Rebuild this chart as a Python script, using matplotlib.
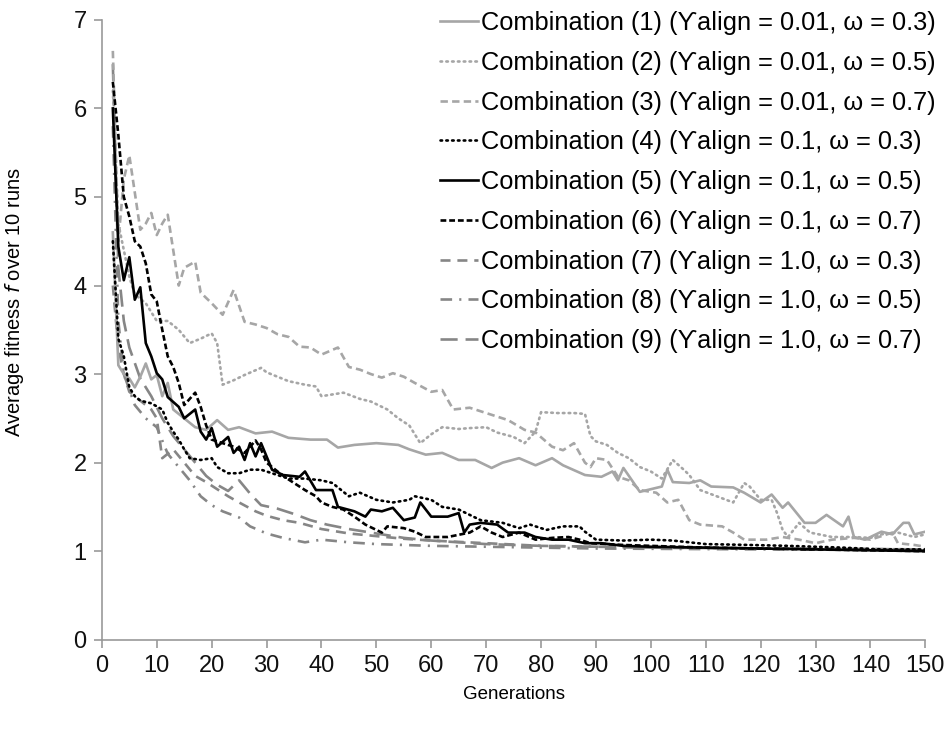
import numpy as np
import matplotlib.pyplot as plt

plt.rcParams['font.family'] = ['Liberation Sans', 'DejaVu Sans']

# (generation, average fitness)
comb1 = [(2, 4.6), (3, 3.1), (4, 3.0), (5, 2.95), (6, 2.85), (7, 2.97), (8, 3.12), (9, 2.94),
         (10, 2.99), (11, 2.75), (12, 2.9), (13, 2.6), (15, 2.5), (17, 2.4), (19, 2.37), (21, 2.48),
         (23, 2.37), (25, 2.4), (28, 2.33), (31, 2.35), (34, 2.28), (38, 2.26), (41, 2.26), (43, 2.17),
         (46, 2.2), (50, 2.22), (54, 2.2), (56, 2.15), (59, 2.09), (62, 2.11), (65, 2.03), (68, 2.03),
         (71, 1.94), (73, 2.0), (76, 2.05), (79, 1.97), (82, 2.05), (84, 1.97), (88, 1.86), (91, 1.84),
         (93, 1.9), (94, 1.8), (95, 1.94), (98, 1.67), (102, 1.73), (103, 1.92), (104, 1.78), (107, 1.77),
         (109, 1.8), (111, 1.73), (115, 1.72), (117, 1.66), (120, 1.55), (122, 1.64), (124, 1.49),
         (125, 1.55), (128, 1.32), (130, 1.32), (132, 1.41), (135, 1.28), (136, 1.39), (137, 1.16),
         (139, 1.13), (141, 1.19), (142, 1.22), (144, 1.19), (146, 1.32), (147, 1.32), (148, 1.19),
         (150, 1.22)]
comb2 = [(2, 6.2), (3, 4.7), (4, 4.4), (5, 4.1), (6, 3.9), (8, 3.8), (10, 3.6), (12, 3.6), (14, 3.5),
         (16, 3.35), (18, 3.4), (20, 3.46), (21, 3.35), (22, 2.88), (24, 2.93), (26, 2.99), (29, 3.07),
         (30, 3.02), (32, 2.97), (34, 2.92), (37, 2.88), (39, 2.86), (40, 2.75), (44, 2.79), (47, 2.72),
         (49, 2.69), (52, 2.6), (54, 2.5), (56, 2.42), (58, 2.22), (60, 2.32), (62, 2.4), (65, 2.38),
         (67, 2.39), (70, 2.4), (72, 2.34), (75, 2.29), (77, 2.22), (79, 2.35), (80, 2.57), (83, 2.56),
         (86, 2.56), (88, 2.55), (89, 2.3), (90, 2.24), (92, 2.2), (94, 2.11), (96, 2.05), (98, 1.95),
         (100, 1.9), (102, 1.82), (104, 2.03), (106, 1.92), (107, 1.86), (109, 1.69), (112, 1.62),
         (115, 1.55), (117, 1.77), (118, 1.73), (120, 1.58), (122, 1.58), (123, 1.43), (124, 1.24),
         (125, 1.16), (127, 1.32), (129, 1.21), (133, 1.16), (137, 1.16), (140, 1.15), (142, 1.19),
         (145, 1.21), (148, 1.16), (150, 1.19)]
comb3 = [(2, 6.65), (3, 4.5), (4, 5.2), (5, 5.47), (7, 4.63), (8, 4.7), (9, 4.82), (10, 4.57),
         (11, 4.7), (12, 4.8), (14, 4.0), (15, 4.2), (17, 4.27), (18, 3.92), (20, 3.8), (22, 3.67),
         (24, 3.95), (26, 3.59), (28, 3.56), (30, 3.52), (32, 3.45), (34, 3.42), (36, 3.31), (38, 3.3),
         (40, 3.22), (43, 3.3), (45, 3.08), (47, 3.05), (49, 3.0), (51, 2.96), (53, 3.01), (55, 2.97),
         (57, 2.9), (60, 2.8), (62, 2.82), (64, 2.6), (67, 2.62), (70, 2.56), (72, 2.52), (74, 2.48),
         (77, 2.37), (79, 2.34), (82, 2.18), (84, 2.14), (86, 2.22), (88, 2.0), (89, 1.95), (90, 2.05),
         (92, 2.03), (94, 1.84), (96, 1.8), (98, 1.69), (101, 1.66), (103, 1.55), (105, 1.58),
         (107, 1.35), (109, 1.3), (113, 1.28), (115, 1.21), (117, 1.13), (121, 1.13), (124, 1.16),
         (127, 1.13), (130, 1.09), (133, 1.13), (137, 1.15), (140, 1.13), (144, 1.21), (145, 1.09),
         (148, 1.07), (150, 1.05)]
comb4 = [(2, 4.5), (3, 3.4), (4, 3.2), (5, 2.85), (6, 2.75), (7, 2.7), (9, 2.67), (11, 2.6), (12, 2.45),
         (13, 2.35), (14, 2.26), (15, 2.15), (16, 2.05), (18, 2.03), (20, 2.05), (21, 1.95), (23, 1.88),
         (25, 1.88), (27, 1.92), (29, 1.92), (31, 1.88), (34, 1.82), (37, 1.82), (40, 1.8), (42, 1.77),
         (45, 1.62), (47, 1.66), (50, 1.58), (53, 1.55), (56, 1.58), (57, 1.62), (60, 1.58), (62, 1.5),
         (65, 1.47), (67, 1.41), (69, 1.35), (73, 1.32), (76, 1.26), (78, 1.3), (81, 1.24), (84, 1.28),
         (87, 1.28), (88, 1.22), (90, 1.13), (95, 1.12), (100, 1.13), (104, 1.12), (110, 1.08),
         (118, 1.07), (125, 1.06), (135, 1.04), (142, 1.02), (150, 1.02)]
comb5 = [(2, 6.0), (3, 4.44), (4, 4.06), (5, 4.32), (6, 3.84), (7, 3.98), (8, 3.35), (9, 3.2),
         (10, 3.01), (11, 2.94), (12, 2.74), (14, 2.63), (15, 2.5), (17, 2.6), (18, 2.35), (19, 2.26),
         (20, 2.39), (21, 2.18), (23, 2.29), (24, 2.11), (25, 2.18), (26, 2.03), (27, 2.22), (28, 2.07),
         (29, 2.22), (31, 1.92), (33, 1.86), (36, 1.84), (37, 1.9), (39, 1.69), (42, 1.69), (43, 1.5),
         (46, 1.45), (48, 1.39), (49, 1.47), (51, 1.45), (53, 1.49), (55, 1.35), (57, 1.38), (58, 1.55),
         (60, 1.39), (63, 1.39), (65, 1.43), (66, 1.21), (67, 1.3), (69, 1.32), (72, 1.3), (74, 1.21),
         (77, 1.21), (79, 1.16), (82, 1.13), (85, 1.13), (88, 1.09), (91, 1.09), (95, 1.06),
         (100, 1.05), (110, 1.04), (120, 1.03), (130, 1.02), (140, 1.01), (150, 1.0)]
comb6 = [(2, 6.3), (3, 5.7), (4, 5.0), (5, 4.78), (6, 4.5), (7, 4.44), (8, 4.25), (9, 3.9), (10, 3.82),
         (11, 3.5), (12, 3.2), (13, 3.08), (14, 2.9), (15, 2.65), (17, 2.79), (18, 2.63), (19, 2.42),
         (20, 2.26), (22, 2.22), (24, 2.18), (26, 2.11), (28, 2.25), (29, 2.15), (30, 2.0), (32, 1.9),
         (34, 1.81), (37, 1.69), (39, 1.62), (40, 1.55), (42, 1.5), (44, 1.47), (46, 1.39), (48, 1.3),
         (50, 1.24), (51, 1.21), (52, 1.28), (55, 1.26), (57, 1.22), (59, 1.16), (63, 1.16), (67, 1.21),
         (69, 1.28), (71, 1.21), (73, 1.16), (76, 1.21), (79, 1.13), (82, 1.15), (85, 1.16), (87, 1.13),
         (89, 1.09), (95, 1.07), (100, 1.06), (110, 1.04), (120, 1.03), (130, 1.02), (140, 1.01),
         (150, 1.0)]
comb7 = [(2, 4.0), (3, 3.3), (4, 3.0), (5, 2.8), (7, 2.7), (9, 2.6), (10, 2.5), (11, 2.05), (13, 2.15),
         (15, 2.0), (17, 1.85), (19, 1.78), (21, 1.7), (23, 1.62), (25, 1.55), (28, 1.45), (30, 1.4),
         (33, 1.35), (36, 1.32), (40, 1.25), (45, 1.2), (50, 1.17), (55, 1.14), (60, 1.12), (70, 1.09),
         (80, 1.06), (90, 1.05), (100, 1.04), (120, 1.03), (150, 1.02)]
comb8 = [(2, 5.8), (3, 3.6), (4, 3.0), (6, 2.65), (8, 2.5), (10, 2.4), (12, 2.1), (14, 1.95), (16, 1.8),
         (18, 1.62), (20, 1.52), (22, 1.45), (25, 1.38), (27, 1.28), (30, 1.2), (33, 1.15), (37, 1.1),
         (40, 1.13), (45, 1.1), (50, 1.08), (55, 1.07), (60, 1.06), (70, 1.05), (90, 1.03), (120, 1.02),
         (150, 1.01)]
comb9 = [(2, 6.5), (3, 4.2), (4, 3.6), (5, 3.3), (7, 2.95), (9, 2.75), (11, 2.5), (13, 2.3), (15, 2.15),
         (17, 2.0), (19, 1.85), (21, 1.75), (23, 1.68), (25, 1.8), (27, 1.65), (29, 1.52), (32, 1.48),
         (35, 1.42), (38, 1.35), (41, 1.3), (45, 1.25), (50, 1.2), (55, 1.15), (60, 1.12), (70, 1.08),
         (80, 1.06), (100, 1.04), (150, 1.02)]

labels = [
    "Combination (1) (ϒalign = 0.01, ω = 0.3)",
    "Combination (2) (ϒalign = 0.01, ω = 0.5)",
    "Combination (3) (ϒalign = 0.01, ω = 0.7)",
    "Combination (4) (ϒalign = 0.1, ω = 0.3)",
    "Combination (5) (ϒalign = 0.1, ω = 0.5)",
    "Combination (6) (ϒalign = 0.1, ω = 0.7)",
    "Combination (7) (ϒalign = 1.0, ω = 0.3)",
    "Combination (8) (ϒalign = 1.0, ω = 0.5)",
    "Combination (9) (ϒalign = 1.0, ω = 0.7)",
]

light = '#a6a6a6'
mid = '#868686'
styles = [
    (light, '-'),
    (light, (0, (0.6, 1.6))),
    (light, (0, (2.8, 1.6))),
    ('black', (0, (0.6, 1.6))),
    ('black', '-'),
    ('black', (0, (2.2, 1.1))),
    (mid, (0, (3.8, 2.6))),
    (mid, (0, (4.4, 2.7, 0.8, 2.7))),
    (mid, (0, (6.5, 3))),
]
data = [comb1, comb2, comb3, comb4, comb5, comb6, comb7, comb8, comb9]
order = [6, 7, 8, 0, 1, 2, 3, 5, 4]

fig = plt.figure(figsize=(9.52, 7.37), dpi=100)
ax = fig.add_axes([0.107, 0.132, 0.865, 0.841])

lines = [None] * 9
for i in order:
    arr = np.array(data[i])
    col, ls = styles[i]
    ln, = ax.plot(arr[:, 0], arr[:, 1], color=col, linestyle=ls, lw=1.9,
                  dash_capstyle='round' if i in (1, 3) else 'butt', label=labels[i])
    lines[i] = ln

ax.set_xlim(0, 150)
ax.set_ylim(0, 7)
ax.set_xticks(np.arange(0, 151, 10))
ax.set_yticks(np.arange(0, 8, 1))
for s in ['top', 'right']:
    ax.spines[s].set_visible(False)
for s in ['left', 'bottom']:
    ax.spines[s].set_color('#999999')
    ax.spines[s].set_linewidth(1.2)
ax.tick_params(colors='#999999', labelcolor='#111111', labelsize=17, length=6, width=1.2, pad=5)
ax.set_xlabel('Generations', fontsize=13.5)
ax.set_ylabel('Average fitness $\\mathit{f}$ over 10 runs', fontsize=14.5)
ax.xaxis.set_label_coords(0.5, -0.074)
ax.yaxis.set_label_coords(-0.092, 0.545)

fig.legend(lines, labels, loc='upper left', bbox_to_anchor=(440 / 952, 1 - 11 / 737), frameon=False,
           fontsize=18.3, handlelength=1.5, handletextpad=0.12, labelspacing=0.62,
           borderpad=0, borderaxespad=0)

fig.savefig('out.png', dpi=100)
